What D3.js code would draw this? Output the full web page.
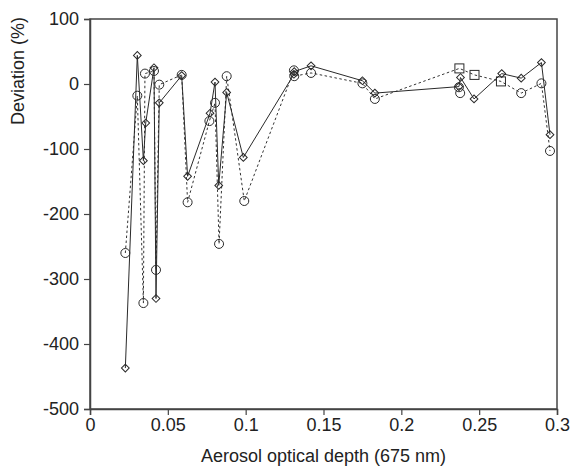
<!DOCTYPE html>
<html>
<head>
<meta charset="utf-8">
<script src="https://d3js.org/d3.v7.min.js"></script>
<style>
  body { margin: 0; background: #fff; }
  svg text { font-family: "Liberation Sans", Arial, sans-serif; fill: #222; }
</style>
</head>
<body>
<div id="chart"></div>
<script>
  // solid line, diamond markers
  const diamondX = [0.0227, 0.0304, 0.0343, 0.0358, 0.0411, 0.0424, 0.0445, 0.0589, 0.0627, 0.0771, 0.0803, 0.0827, 0.0878, 0.0985, 0.1310, 0.1312, 0.1420, 0.1750, 0.1830, 0.2370, 0.2380, 0.2467, 0.2645, 0.2770, 0.2900, 0.2955];
  const diamondY = [-437, 44, -118, -60, 25, -330, -29, 13, -142, -45, 3, -156, -13, -113, 15, 19, 28, 5, -14, -4, 10, -23, 16, 9, 33, -78];

  // dotted line, circle markers then square markers
  const dottedX = [0.0227, 0.0304, 0.0343, 0.0353, 0.0411, 0.0424, 0.0445, 0.0589, 0.0627, 0.0767, 0.0803, 0.0829, 0.0878, 0.0991, 0.1310, 0.1312, 0.1420, 0.1750, 0.1830, 0.2373, 0.2470, 0.2640, 0.2770, 0.2900, 0.2955];
  const dottedY = [-260, -18, -337, 16, 20, -286, -1, 14, -182, -57, -29, -246, 12, -180, 21, 12, 17, 1, -23, 24, 14, 4, -14, 1, -103];
  const dottedShape = ["o", "o", "o", "o", "o", "o", "o", "o", "o", "o", "o", "o", "o", "o", "o", "o", "o", "o", "o", "s", "s", "s", "o", "o", "o"];

  // circles with no connecting line
  const loneCircleX = [0.2370, 0.2378];
  const loneCircleY = [-5, -14];

  const xTicks = [0, 0.05, 0.1, 0.15, 0.2, 0.25, 0.3];
  const yTicks = [100, 0, -100, -200, -300, -400, -500];

  const width = 570, height = 466;
  const margin = {left: 90, top: 19, right: 13, bottom: 57};

  const svg = d3.select("#chart").append("svg")
    .attr("width", width)
    .attr("height", height);

  const x = d3.scaleLinear().domain([0, 0.3]).range([margin.left, width - margin.right]);
  const y = d3.scaleLinear().domain([-500, 100]).range([height - margin.bottom, margin.top]);

  const ink = "#2a2a2a";

  // frame
  svg.append("rect")
    .attr("x", x(0))
    .attr("y", y(100))
    .attr("width", x(0.3) - x(0))
    .attr("height", y(-500) - y(100))
    .attr("fill", "none")
    .attr("stroke", "#444")
    .attr("stroke-width", 1.5);

  // axes (plain hyphen for negatives, like the original)
  const xAxis = svg.append("g")
    .attr("transform", `translate(0,${y(-500)})`)
    .call(d3.axisBottom(x).tickValues(xTicks).tickSize(6).tickPadding(3).tickFormat(d => String(d)));
  const yAxis = svg.append("g")
    .attr("transform", `translate(${x(0)},0)`)
    .call(d3.axisLeft(y).tickValues(yTicks).tickSize(6).tickPadding(5).tickFormat(d => String(d)));

  [xAxis, yAxis].forEach(a => {
    a.select(".domain").attr("stroke", "#444").attr("stroke-width", 1.5);
    a.selectAll(".tick line").attr("stroke", "#444").attr("stroke-width", 1.2);
    a.selectAll(".tick text").style("font-size", "18px").attr("fill", "#222");
  });

  svg.append("text")
    .attr("x", (x(0) + x(0.3)) / 2)
    .attr("y", 462)
    .attr("text-anchor", "middle")
    .style("font-size", "18px")
    .text("Aerosol optical depth (675 nm)");

  svg.append("text")
    .attr("transform", `translate(24,${y(20)}) rotate(-90)`)
    .attr("text-anchor", "middle")
    .style("font-size", "18px")
    .text("Deviation (%)");

  const plot = svg.append("g");

  const line = d3.line().x(d => x(d[0])).y(d => y(d[1]));

  const diamondPts = diamondX.map((v, i) => [v, diamondY[i]]);
  const dottedPts = dottedX.map((v, i) => [v, dottedY[i], dottedShape[i]]);
  const lonePts = loneCircleX.map((v, i) => [v, loneCircleY[i]]);

  plot.append("path")
    .attr("d", line(dottedPts))
    .attr("fill", "none")
    .attr("stroke", "#333")
    .attr("stroke-width", 1)
    .attr("stroke-dasharray", "2.5,2.5");

  plot.append("path")
    .attr("d", line(diamondPts))
    .attr("fill", "none")
    .attr("stroke", ink)
    .attr("stroke-width", 1);

  const diamond = d3.symbol().type(d3.symbolSquare).size(30);
  plot.selectAll(".dia")
    .data(diamondPts)
    .enter().append("path")
    .attr("class", "dia")
    .attr("d", diamond)
    .attr("transform", d => `translate(${x(d[0])},${y(d[1])}) rotate(45)`)
    .attr("fill", "none")
    .attr("stroke", ink)
    .attr("stroke-width", 1);

  plot.selectAll(".circ")
    .data(dottedPts.filter(d => d[2] === "o").concat(lonePts))
    .enter().append("circle")
    .attr("class", "circ")
    .attr("cx", d => x(d[0]))
    .attr("cy", d => y(d[1]))
    .attr("r", 4.5)
    .attr("fill", "none")
    .attr("stroke", ink)
    .attr("stroke-width", 1);

  plot.selectAll(".sq")
    .data(dottedPts.filter(d => d[2] === "s"))
    .enter().append("rect")
    .attr("class", "sq")
    .attr("x", d => x(d[0]) - 4.5)
    .attr("y", d => y(d[1]) - 4.5)
    .attr("width", 9)
    .attr("height", 9)
    .attr("fill", "none")
    .attr("stroke", ink)
    .attr("stroke-width", 1);
</script>
</body>
</html>
